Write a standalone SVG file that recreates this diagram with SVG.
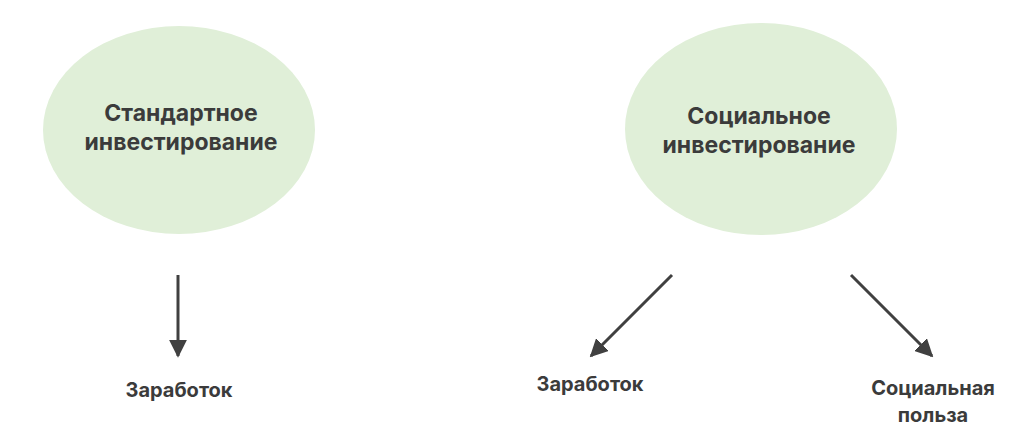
<svg xmlns="http://www.w3.org/2000/svg" width="1024" height="442" viewBox="0 0 1024 442">
<defs>
<style>
.node{fill:#e0efd8;stroke:none}
.t{font-family:Inter,"Noto Sans","Liberation Sans",sans-serif;font-weight:700;fill:#3b3b3b;text-anchor:middle}
.big{font-size:23px}
.small{font-size:20px}
.c{stroke:#404040;stroke-width:3;fill:none}
</style>
<marker id="ah" viewBox="0 0 10 10" refX="9" refY="5" markerWidth="6" markerHeight="6" markerUnits="strokeWidth" orient="auto">
<path d="M0,0 L10,5 L0,10 Z" fill="#404040"/>
</marker>
</defs>
<rect width="1024" height="442" fill="#ffffff"/>
<g id="node-standard">
<ellipse class="node" cx="179" cy="130" rx="136" ry="104"/>
<text class="t big" x="181" y="121">Стандартное</text>
<text class="t big" x="181" y="150">инвестирование</text>
</g>
<g id="node-social">
<ellipse class="node" cx="761" cy="129" rx="136" ry="106"/>
<text class="t big" x="759" y="124">Социальное</text>
<text class="t big" x="759" y="153">инвестирование</text>
</g>
<g id="node-earn-left">
<text class="t small" x="179" y="397">Заработок</text>
</g>
<g id="node-earn-right">
<text class="t small" x="590" y="391">Заработок</text>
</g>
<g id="node-benefit">
<text class="t small" x="933" y="395">Социальная</text>
<text class="t small" x="933" y="422">польза</text>
</g>
<g id="connectors">
<line class="c" x1="178" y1="275" x2="178" y2="356" marker-end="url(#ah)"/>
<line class="c" x1="672" y1="275" x2="591" y2="356" marker-end="url(#ah)"/>
<line class="c" x1="851" y1="275" x2="932" y2="356" marker-end="url(#ah)"/>
</g>
</svg>
